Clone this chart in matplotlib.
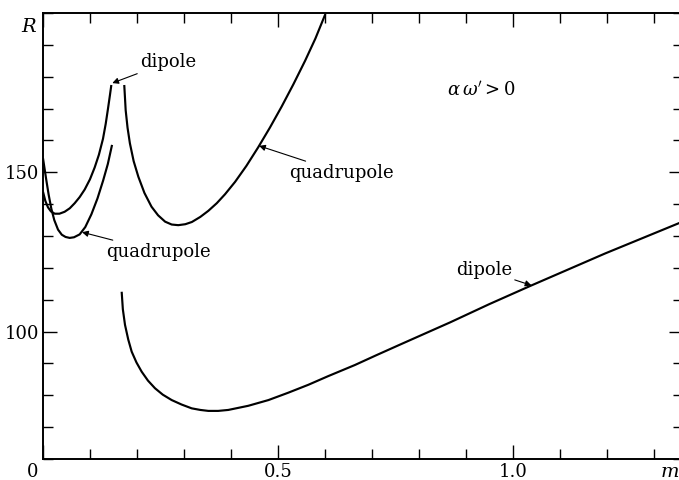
import matplotlib
matplotlib.use("Agg")
import matplotlib.pyplot as plt
from matplotlib.ticker import MultipleLocator
from matplotlib.transforms import ScaledTranslation

# R versus m for the dipole and quadrupole branches (alpha*omega' > 0)
dipole_lo_m = [0.000, 0.005, 0.0106, 0.017, 0.025, 0.035, 0.046, 0.057, 0.0675, 0.078,
               0.0888, 0.100, 0.110, 0.119, 0.1277, 0.1335, 0.1384, 0.1425, 0.1455]
dipole_lo_R = [143.9, 141.0, 139.0, 137.7, 137.0, 137.0, 137.6, 138.7, 140.3, 142.2,
               144.6, 147.8, 151.5, 155.5, 160.5, 165.2, 170.0, 174.2, 177.4]

quad_lo_m = [0.000, 0.0035, 0.007, 0.012, 0.0177, 0.024, 0.032, 0.040, 0.048, 0.0568,
             0.066, 0.078, 0.090, 0.103, 0.116, 0.128, 0.138, 0.147]
quad_lo_R = [154.4, 151.0, 147.6, 143.0, 138.6, 135.0, 132.0, 130.4, 129.7, 129.4,
             129.6, 130.5, 132.8, 136.8, 141.8, 147.4, 152.6, 158.6]

quad_hi_m = [0.173, 0.1745, 0.176, 0.180, 0.185, 0.193, 0.203, 0.216, 0.231, 0.245,
             0.260, 0.274, 0.288, 0.303, 0.317, 0.335, 0.352, 0.370, 0.3875, 0.409,
             0.433, 0.458, 0.483, 0.508, 0.533, 0.558, 0.580, 0.601]
quad_hi_R = [177.4, 173.5, 169.5, 164.0, 159.1, 153.5, 148.6, 143.5, 139.2, 136.5,
             134.5, 133.6, 133.4, 133.7, 134.4, 136.0, 137.9, 140.3, 143.1, 147.0,
             152.0, 157.8, 164.0, 170.6, 177.6, 185.0, 192.0, 199.6]

dipole_hi_m = [0.1675, 0.170, 0.1746, 0.1815, 0.1888, 0.199, 0.2101, 0.2235, 0.2385, 0.255,
               0.274, 0.295, 0.3166, 0.335, 0.352, 0.373, 0.3945, 0.437, 0.480, 0.522,
               0.565, 0.607, 0.664, 0.710, 0.760, 0.815, 0.867, 0.950, 1.037, 1.1965, 1.365]
dipole_hi_R = [112.5, 107.0, 102.1, 97.5, 93.7, 90.3, 87.4, 84.6, 82.2, 80.2,
               78.5, 77.1, 75.9, 75.4, 75.1, 75.1, 75.4, 76.7, 78.5, 80.8,
               83.3, 86.0, 89.5, 92.6, 95.9, 99.5, 102.9, 108.6, 114.3, 124.5, 134.7]

x_ticks = [0, 0.5, 1.0]
x_tick_labels = ["0", "0.5", "1.0"]
y_ticks = [100, 150]
y_tick_labels = ["100", "150"]

plt.rcParams["font.family"] = ["DejaVu Serif"]
plt.rcParams["mathtext.fontset"] = "dejavuserif"

W, H, DPI = 679, 480, 100
fig = plt.figure(figsize=(W / DPI, H / DPI), dpi=DPI)
ax = fig.add_axes([43 / W, 21 / H, 640 / W, 446 / H])

line_kw = dict(color="black", lw=1.55, solid_capstyle="butt", solid_joinstyle="round")
ax.plot(dipole_lo_m, dipole_lo_R, **line_kw)
ax.plot(quad_lo_m, quad_lo_R, **line_kw)
ax.plot(quad_hi_m, quad_hi_R, **line_kw)
ax.plot(dipole_hi_m, dipole_hi_R, **line_kw)

ax.set_xlim(0, 1.3626)
ax.set_ylim(60, 200)

for s in ax.spines.values():
    s.set_linewidth(1.4)

ax.set_xticks(x_ticks)
ax.set_xticklabels(x_tick_labels)
ax.set_yticks(y_ticks)
ax.set_yticklabels(y_tick_labels)
ax.xaxis.set_minor_locator(MultipleLocator(0.1))
ax.yaxis.set_minor_locator(MultipleLocator(10))
ax.tick_params(which="both", direction="in", top=True, right=True,
               width=1.0, labelsize=13, pad=3)
ax.tick_params(which="major", length=10)
ax.tick_params(which="minor", length=7)

# shift the origin label left of the corner
lbl0 = ax.get_xticklabels()[0]
lbl0.set_transform(lbl0.get_transform() + ScaledTranslation(-10 / DPI, 0, fig.dpi_scale_trans))

arrow_kw = dict(arrowstyle="-|>", color="black", lw=0.8, mutation_scale=9,
                shrinkA=0, shrinkB=0)
text_kw = dict(fontsize=13, va="center")

ax.annotate("dipole", xy=(0.1475, 178.0), xytext=(0.2065, 184.6),
            arrowprops=arrow_kw, ha="left", **text_kw)
ax.annotate("quadrupole", xy=(0.083, 131.2), xytext=(0.134, 125.0),
            arrowprops=arrow_kw, ha="left", **text_kw)
ax.annotate("quadrupole", xy=(0.460, 158.3), xytext=(0.524, 149.8),
            arrowprops=arrow_kw, ha="left", **text_kw)
ax.annotate("dipole", xy=(1.040, 114.5), xytext=(0.9985, 119.4),
            arrowprops=arrow_kw, ha="right", **text_kw)

ax.text(0.860, 175.8, r"$\alpha\,\omega^{\prime} > \mathrm{0}$", fontsize=13,
        ha="left", va="center")

ax.text(-0.0298, 195.6, "R", fontsize=14, style="italic", ha="center",
        va="center", clip_on=False)
ax.text(1.335, 56.0, "m", fontsize=14, style="italic", ha="center",
        va="center", clip_on=False)

fig.savefig("out.png", dpi=DPI)
